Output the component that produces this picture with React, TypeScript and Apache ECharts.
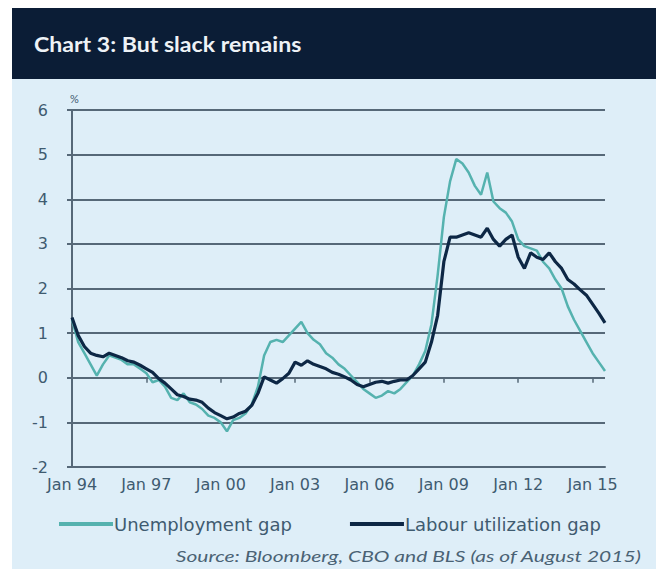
import React, { useEffect, useRef } from "react";
import * as echarts from "echarts";

const years = [1994, 1995, 1996, 1997, 1998, 1999, 2000, 2001, 2002, 2003, 2004, 2005, 2006, 2007, 2008, 2009, 2010, 2011, 2012, 2013, 2014, 2015];
const quarterMonths = ["Jan", "Apr", "Jul", "Oct"];
const yTicks = [-2, -1, 0, 1, 2, 3, 4, 5, 6];

// quarterly values, Jan 1994 .. Jul 2015
const unemploymentGap = [
  1.3, 0.8, 0.55, 0.3,
  0.05, 0.3, 0.5, 0.45,
  0.4, 0.3, 0.3, 0.2,
  0.1, -0.1, -0.05, -0.2,
  -0.45, -0.5, -0.35, -0.55,
  -0.6, -0.7, -0.85, -0.9,
  -1.0, -1.2, -0.95, -0.9,
  -0.8, -0.6, -0.2, 0.5,
  0.8, 0.85, 0.8, 0.95,
  1.1, 1.25, 1.0, 0.85,
  0.75, 0.55, 0.45, 0.3,
  0.2, 0.05, -0.1, -0.25,
  -0.35, -0.45, -0.4, -0.3,
  -0.35, -0.25, -0.1, 0.05,
  0.3, 0.6, 1.2, 2.3,
  3.6, 4.4, 4.9, 4.8,
  4.6, 4.3, 4.1, 4.6,
  3.95, 3.8, 3.7, 3.5,
  3.1, 2.95, 2.9, 2.85,
  2.6, 2.45, 2.2, 2.0,
  1.6, 1.3, 1.05, 0.8,
  0.55, 0.35, 0.15,
];

const labourUtilizationGap = [
  1.35, 0.95, 0.7, 0.55,
  0.5, 0.47, 0.55, 0.5,
  0.45, 0.38, 0.35, 0.28,
  0.2, 0.12, -0.02, -0.12,
  -0.25, -0.38, -0.42, -0.48,
  -0.5, -0.55, -0.68, -0.78,
  -0.85, -0.92, -0.88, -0.8,
  -0.75, -0.62, -0.35, 0.02,
  -0.05, -0.12, -0.02, 0.1,
  0.35, 0.28, 0.38, 0.3,
  0.25, 0.2, 0.12, 0.08,
  0.02, -0.05, -0.15, -0.2,
  -0.15, -0.1, -0.08, -0.12,
  -0.08, -0.05, -0.05, 0.05,
  0.2, 0.35, 0.8, 1.4,
  2.6, 3.15, 3.15, 3.2,
  3.25, 3.2, 3.15, 3.35,
  3.1, 2.95, 3.1, 3.2,
  2.7, 2.45, 2.8, 2.7,
  2.65, 2.8, 2.6, 2.45,
  2.2, 2.1, 1.97, 1.85,
  1.65, 1.45, 1.23,
];

const categories: string[] = [];
years.forEach((y) => {
  quarterMonths.forEach((m) => {
    categories.push(m + " " + String(y).slice(2));
  });
});
const cats = categories.slice(0, unemploymentGap.length);

const gridColor = "#566878";
const textColor = "#3f5b70";
const axisFont = "DejaVu Sans";

export default function App() {
  const ref = useRef<HTMLDivElement>(null);
  useEffect(() => {
    if (!ref.current) return;
    const chart = echarts.init(ref.current, null, { renderer: "svg" });
    chart.setOption({
      animation: false,
      backgroundColor: "#ffffff",
      textStyle: { fontFamily: axisFont },
      graphic: [
        { type: "rect", z: -10, shape: { x: 12, y: 78, width: 644, height: 491 }, style: { fill: "#deeef8" } },
        { type: "rect", z: -9, shape: { x: 12, y: 8, width: 644, height: 71 }, style: { fill: "#0b1d36" } },
        {
          type: "text", x: 34, y: 44, scaleX: 1.1,
          style: { text: "Chart 3: But slack remains", fill: "#eef2f6", font: "bold 21px Lato", verticalAlign: "middle" },
        },
        {
          type: "text", x: 70, y: 98,
          style: { text: "%", fill: textColor, font: "11px Lato", verticalAlign: "middle" },
        },
        {
          type: "text", x: 641, y: 556, scaleX: 1.4,
          style: {
            text: "Source: Bloomberg, CBO and BLS (as of August 2015)",
            fill: "#4a6274", font: "italic 15px Lato", align: "right", verticalAlign: "middle",
          },
        },
      ],
      grid: { left: 72, right: 51, top: 110, bottom: 102, containLabel: false },
      legend: {
        left: 54, top: 510, itemWidth: 54, itemHeight: 4, itemGap: 58, icon: "rect",
        textStyle: { color: textColor, fontSize: 18, fontFamily: axisFont, padding: [0, 0, 0, -4] },
        data: ["Unemployment gap", "Labour utilization gap"],
      },
      xAxis: [
        {
          type: "category",
          data: cats,
          boundaryGap: false,
          axisLine: { show: true, onZero: false, lineStyle: { color: gridColor, width: 2 } },
          axisTick: { show: false },
          axisLabel: {
            interval: (i: number) => i % 12 === 0,
            color: textColor, fontSize: 16, margin: 9, fontFamily: axisFont,
          },
          splitLine: { show: false },
        },
        {
          type: "category",
          data: cats,
          boundaryGap: false,
          position: "bottom",
          axisLine: { show: true, onZero: true, lineStyle: { color: gridColor, width: 2, opacity: 0 } },
          axisTick: { show: true, interval: 11, length: 5, lineStyle: { color: gridColor, width: 1.5 } },
          axisLabel: { show: false },
          splitLine: { show: false },
        },
      ],
      yAxis: {
        type: "value",
        min: yTicks[0], max: yTicks[yTicks.length - 1], interval: 1,
        axisLine: { show: true, lineStyle: { color: gridColor, width: 2 } },
        axisTick: { show: true, length: 5, lineStyle: { color: gridColor, width: 2 } },
        axisLabel: { color: textColor, fontSize: 16, margin: 24, fontFamily: axisFont },
        splitLine: { show: true, lineStyle: { color: gridColor, width: 2 } },
      },
      series: [
        {
          name: "Unemployment gap", type: "line", data: unemploymentGap, showSymbol: false, symbol: "none",
          lineStyle: { color: "#55b2af", width: 2.5 }, itemStyle: { color: "#55b2af" }, z: 2,
        },
        {
          name: "Labour utilization gap", type: "line", data: labourUtilizationGap, showSymbol: false, symbol: "none",
          lineStyle: { color: "#0d2745", width: 3.2 }, itemStyle: { color: "#0d2745" }, z: 3,
        },
      ],
    });
    return () => chart.dispose();
  }, []);
  return (
    <div
      ref={ref}
      style={{ position: "fixed", left: 0, top: 0, width: 656, height: 569 }}
    />
  );
}
